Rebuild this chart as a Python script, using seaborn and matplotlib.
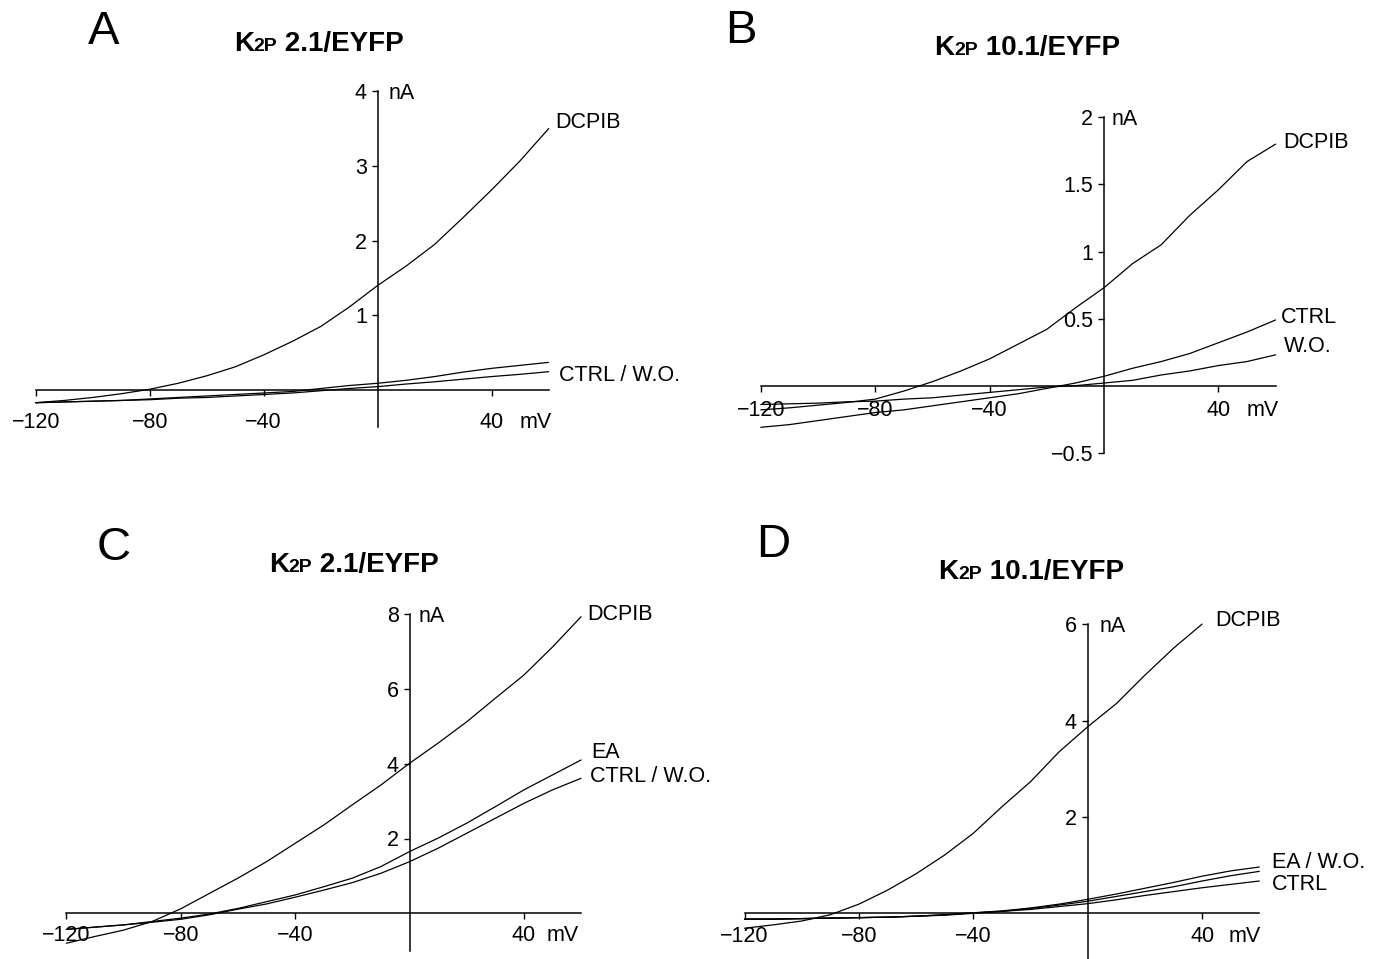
import matplotlib
matplotlib.use("Agg")
import matplotlib.pyplot as plt
import seaborn as sns

# membrane potential (mV) at which the traces were read
voltage = [-120, -110, -100, -90, -80, -70, -60, -50, -40, -30,
           -20, -10, 0, 10, 20, 30, 40, 50, 60]
voltage_to40 = voltage[:17]

# A: K2P 2.1/EYFP, DCPIB vs CTRL / W.O. (nA)
a_dcpib = [-0.17, -0.14, -0.10, -0.05, 0.01, 0.09, 0.19, 0.31, 0.47, 0.65,
           0.85, 1.11, 1.40, 1.66, 1.95, 2.31, 2.68, 3.07, 3.50]
a_ctrl = [-0.17, -0.16, -0.15, -0.14, -0.12, -0.10, -0.08, -0.06, -0.04, -0.02,
          0.02, 0.06, 0.09, 0.13, 0.18, 0.24, 0.29, 0.33, 0.37]
a_wo = [-0.17, -0.16, -0.15, -0.14, -0.13, -0.11, -0.10, -0.08, -0.06, -0.04,
        -0.01, 0.02, 0.045, 0.08, 0.11, 0.145, 0.18, 0.21, 0.245]

# B: K2P 10.1/EYFP
b_dcpib = [-0.18, -0.165, -0.145, -0.125, -0.10, -0.04, 0.03, 0.11, 0.20, 0.31,
           0.42, 0.58, 0.73, 0.91, 1.05, 1.27, 1.46, 1.67, 1.80]
b_ctrl = [-0.31, -0.29, -0.26, -0.23, -0.20, -0.18, -0.15, -0.12, -0.09, -0.06,
          -0.02, 0.02, 0.07, 0.13, 0.18, 0.24, 0.32, 0.40, 0.49]
b_wo = [-0.14, -0.135, -0.13, -0.12, -0.115, -0.10, -0.09, -0.07, -0.05, -0.03,
        -0.01, 0.00, 0.02, 0.04, 0.08, 0.11, 0.15, 0.18, 0.23]

# C: K2P 2.1/EYFP, DCPIB vs EA vs CTRL / W.O.
c_dcpib = [-0.80, -0.62, -0.45, -0.22, 0.12, 0.53, 0.94, 1.38, 1.87, 2.36,
           2.90, 3.43, 4.01, 4.55, 5.12, 5.75, 6.37, 7.12, 7.93]
c_ea = [-0.43, -0.37, -0.31, -0.22, -0.13, -0.02, 0.13, 0.31, 0.49, 0.71,
        0.94, 1.25, 1.65, 2.01, 2.41, 2.85, 3.30, 3.70, 4.10]
c_ctrl_wo = [-0.43, -0.37, -0.31, -0.24, -0.16, -0.04, 0.11, 0.25, 0.43, 0.62,
             0.82, 1.07, 1.38, 1.74, 2.14, 2.54, 2.94, 3.30, 3.61]

# D: K2P 10.1/EYFP, DCPIB vs EA / W.O. vs CTRL
d_dcpib = [-0.31, -0.24, -0.16, -0.03, 0.19, 0.48, 0.82, 1.21, 1.66, 2.21,
           2.73, 3.35, 3.87, 4.35, 4.94, 5.50, 6.00]
d_ea = [-0.12, -0.12, -0.11, -0.10, -0.09, -0.08, -0.06, -0.03, 0.01, 0.05,
        0.11, 0.19, 0.29, 0.40, 0.52, 0.64, 0.77, 0.88, 0.96]
d_wo = [-0.12, -0.12, -0.11, -0.10, -0.09, -0.08, -0.06, -0.03, 0.01, 0.04,
        0.10, 0.17, 0.25, 0.35, 0.45, 0.55, 0.67, 0.78, 0.87]
d_ctrl = [-0.12, -0.12, -0.11, -0.10, -0.09, -0.08, -0.06, -0.04, 0.00, 0.04,
          0.08, 0.14, 0.20, 0.28, 0.37, 0.45, 0.53, 0.60, 0.67]

xticks = [-120, -80, -40, 40]
xticklabels = ["\u2212120", "\u221280", "\u221240", "40"]

sns.set_theme(style="white")
plt.rcParams["font.family"] = ["Liberation Sans", "DejaVu Sans"]
plt.rcParams["text.color"] = "black"

W, H = 1377, 959
fig = plt.figure(figsize=(W / 100, H / 100), dpi=100)
fig.patch.set_facecolor("white")

FS = 15.5


def make_panel(ox, oy, sx, sy, yspan, yticks, yticklabels, xpad, mv_x, na_dx):
    # ox, oy: pixel position of the origin; sx, sy: pixels per mV / per nA
    xlim = (-128, 70)
    ylim = (yspan[0] - 0.08 * (yspan[1] - yspan[0]), yspan[1] + 0.05 * (yspan[1] - yspan[0]))
    left = ox + xlim[0] * sx
    right = ox + xlim[1] * sx
    top = oy - ylim[1] * sy
    bottom = oy - ylim[0] * sy
    ax = fig.add_axes([left / W, 1 - bottom / H, (right - left) / W, (bottom - top) / H])
    ax.set_xlim(xlim)
    ax.set_ylim(ylim)
    ax.set_facecolor("none")
    for side in ["top", "right"]:
        ax.spines[side].set_visible(False)
    ax.spines["left"].set_position(("data", 0))
    ax.spines["bottom"].set_position(("data", 0))
    ax.spines["left"].set_bounds(yspan[0], yspan[1])
    ax.spines["bottom"].set_bounds(-120, 60)
    for side in ["left", "bottom"]:
        ax.spines[side].set_color("black")
        ax.spines[side].set_linewidth(1.1)
    ax.set_xticks(xticks)
    ax.set_xticklabels(xticklabels)
    ax.set_yticks(yticks)
    ax.set_yticklabels(yticklabels)
    ax.tick_params(axis="x", direction="out", length=4.3, width=1.0, pad=xpad,
                   labelsize=FS, colors="black")
    ax.tick_params(axis="y", direction="out", length=4.3, width=1.0, pad=3.5,
                   labelsize=FS, colors="black")
    ax.xaxis.set_ticks_position("bottom")
    ax.yaxis.set_ticks_position("left")
    ax.grid(False)
    ax.annotate("mV", xy=(mv_x, 0), xytext=(0, -(4.3 + xpad)), textcoords="offset points",
                ha="right", va="top", fontsize=FS)
    ax.annotate("nA", xy=(0, yspan[1]), xytext=(na_dx, 0), textcoords="offset points",
                ha="left", va="center_baseline", fontsize=FS)
    return ax


def trace(ax, v, i):
    sns.lineplot(x=v, y=i, ax=ax, color="black", linewidth=0.9, sort=False,
                 estimator=None)


def title(xc, yb, sub, rest):
    r = fig.canvas.get_renderer()
    parts = [("K", 20), (sub, 14), (rest, 20)]
    texts = [fig.text(0, 0, s, fontsize=f, weight="bold") for s, f in parts]
    widths = [t.get_window_extent(r).width for t in texts]
    x = xc - sum(widths) / 2
    for t, w in zip(texts, widths):
        t.set_position((x / W, 1 - yb / H))
        t.set_va("baseline")
        x += w


def letter(x, yb, s):
    fig.text(x / W, 1 - yb / H, s, fontsize=34, ha="left", va="baseline")


# Panel A
axA = make_panel(377.7, 390, 2.85, 74.7, (-0.5, 4), [1, 2, 3, 4], ["1", "2", "3", "4"],
                 11.5, 61.0, 8)
trace(axA, voltage, a_dcpib)
trace(axA, voltage, a_ctrl)
trace(axA, voltage, a_wo)
axA.text(62.3, 3.58, "DCPIB", fontsize=FS, ha="left", va="center")
axA.text(63.5, 0.19, "CTRL / W.O.", fontsize=FS, ha="left", va="center")

# Panel B
axB = make_panel(1104, 385.7, 2.86, 134.2, (-0.5, 2), [-0.5, 0.5, 1, 1.5, 2],
                 ["\u22120.5", "0.5", "1", "1.5", "2"], 6.0, 61.2, 5.5)
trace(axB, voltage, b_dcpib)
trace(axB, voltage, b_ctrl)
trace(axB, voltage, b_wo)
axB.text(62.8, 1.81, "DCPIB", fontsize=FS, ha="left", va="center")
axB.text(61.9, 0.51, "CTRL", fontsize=FS, ha="left", va="center")
axB.text(62.8, 0.29, "W.O.", fontsize=FS, ha="left", va="center")

# Panel C
axC = make_panel(409.5, 913.3, 2.86, 37.4, (-1.0, 8), [2, 4, 6, 8], ["2", "4", "6", "8"],
                 4.1, 59.2, 6.5)
trace(axC, voltage, c_dcpib)
trace(axC, voltage, c_ea)
trace(axC, voltage, c_ctrl_wo)
axC.text(62.2, 8.0, "DCPIB", fontsize=FS, ha="left", va="center")
axC.text(63.6, 4.29, "EA", fontsize=FS, ha="left", va="center")
axC.text(63.1, 3.65, "CTRL / W.O.", fontsize=FS, ha="left", va="center")

# Panel D
axD = make_panel(1087.7, 913.3, 2.86, 48.2, (-0.95, 6), [2, 4, 6], ["2", "4", "6"],
                 4.8, 60.6, 8.5)
trace(axD, voltage_to40, d_dcpib)
trace(axD, voltage, d_ea)
trace(axD, voltage, d_wo)
trace(axD, voltage, d_ctrl)
axD.text(44.5, 6.08, "DCPIB", fontsize=FS, ha="left", va="center")
axD.text(64.5, 1.05, "EA / W.O.", fontsize=FS, ha="left", va="center")
axD.text(64.5, 0.60, "CTRL", fontsize=FS, ha="left", va="center")

title(319, 50.7, "2P", " 2.1/EYFP")
title(1027, 55, "2P", " 10.1/EYFP")
title(354, 571.7, "2P", " 2.1/EYFP")
title(1031, 579.3, "2P", " 10.1/EYFP")

letter(88, 44, "A")
letter(725, 43.3, "B")
letter(97, 560, "C")
letter(756, 556.7, "D")

fig.savefig("out.png", dpi=100, facecolor="white")
